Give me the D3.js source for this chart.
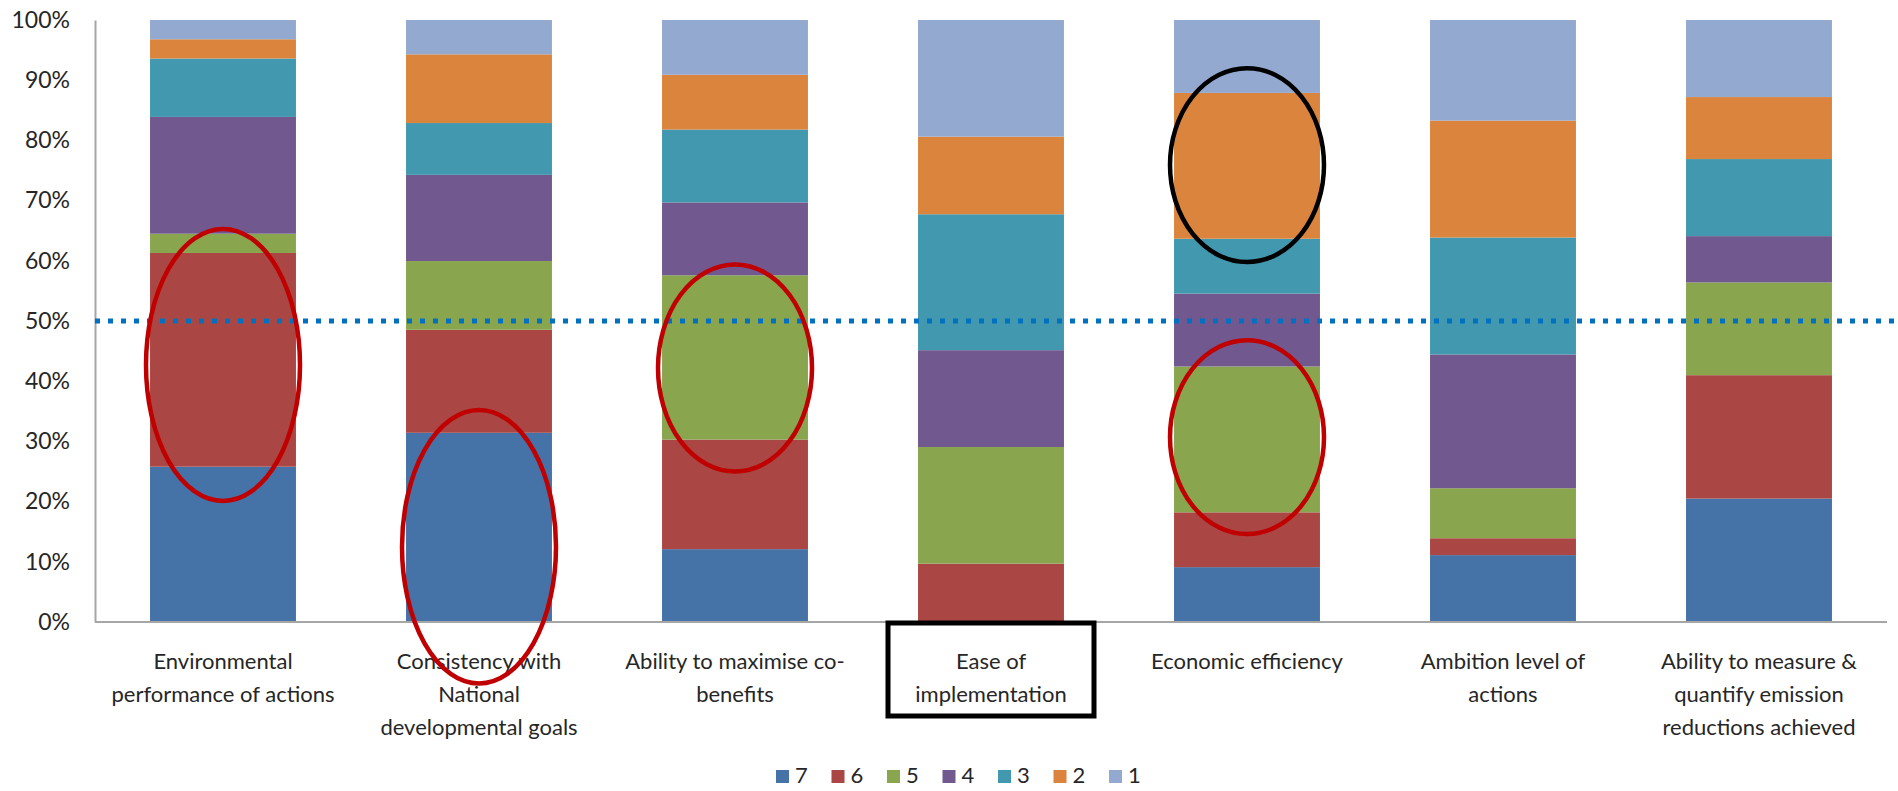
<!DOCTYPE html>
<meta charset="utf-8">
<html>
<head>
<script src="https://cdn.jsdelivr.net/npm/d3@7"></script>
<style>
  body { margin: 0; background: #fff; }
  text { font-family: Lato, "Open Sans", sans-serif; fill: #262626; }
</style>
</head>
<body>
<div id="chartContainer"></div>
<script>
// criteria on the x axis, each one a list of text lines
var categories = [
  "Environmental performance of actions",
  "Consistency with National developmental goals",
  "Ability to maximise co-benefits",
  "Ease of implementation",
  "Economic efficiency",
  "Ambition level of actions",
  "Ability to measure & quantify emission reductions achieved"
];
var categoryLines = [
  ["Environmental", "performance of actions"],
  ["Consistency with", "National", "developmental goals"],
  ["Ability to maximise co-", "benefits"],
  ["Ease of", "implementation"],
  ["Economic efficiency"],
  ["Ambition level of", "actions"],
  ["Ability to measure &", "quantify emission", "reductions achieved"]
];

// share of answers (%) per score
var score7 = [25.8, 31.4, 12.1, 0.0, 9.1, 11.1, 20.5];
var score6 = [35.5, 17.1, 18.2, 9.7, 9.1, 2.8, 20.5];
var score5 = [3.2, 11.4, 27.3, 19.4, 24.2, 8.3, 15.4];
var score4 = [19.4, 14.3, 12.1, 16.1, 12.1, 22.2, 7.7];
var score3 = [9.7, 8.6, 12.1, 22.6, 9.1, 19.4, 12.8];
var score2 = [3.2, 11.4, 9.1, 12.9, 24.2, 19.4, 10.3];
var score1 = [3.2, 5.7, 9.1, 19.4, 12.1, 16.7, 12.8];

var seriesNames = ["7", "6", "5", "4", "3", "2", "1"];
var seriesColors = ["#4572A7", "#AA4643", "#89A54E", "#71588F", "#4198AF", "#DB843D", "#93A9CF"];
var yTicks = [0, 0.1, 0.2, 0.3, 0.4, 0.5, 0.6, 0.7, 0.8, 0.9, 1];

// hand drawn highlights: [category index, centre %, half height %, colour]
var ellipses = [
  [0, 42.7, 22.6, "#C00000"],
  [1, 12.5, 22.7, "#C00000"],
  [2, 42.2, 17.2, "#C00000"],
  [4, 75.9, 16.1, "#000000"],
  [4, 30.7, 16.1, "#C00000"]
];
var boxedCategory = 3;

var W = 1898, H = 791;
var svg = d3.select("#chartContainer").append("svg")
  .attr("width", W).attr("height", H);

var mLeft = 95, mRight = 1887, mTop = 20, mBottom = 622;

var allSeries = [score7, score6, score5, score4, score3, score2, score1];
var rows = categories.map(function (c, i) {
  var r = { cat: c };
  seriesNames.forEach(function (s, j) { r[s] = allSeries[j][i]; });
  return r;
});

var stack = d3.stack().keys(seriesNames).offset(d3.stackOffsetExpand);
var layers = stack(rows);

var x = d3.scaleBand().domain(categories).range([mLeft, mRight])
  .paddingInner(0.43).paddingOuter(0.215);
var y = d3.scaleLinear().domain([0, 1]).range([mBottom, mTop]);

// bars
svg.append("g").selectAll("g")
  .data(layers)
  .enter().append("g")
    .attr("fill", function (d, i) { return seriesColors[i]; })
  .selectAll("rect")
  .data(function (d) { return d; })
  .enter().append("rect")
    .attr("x", function (d) { return x(d.data.cat); })
    .attr("width", x.bandwidth())
    .attr("y", function (d) { return y(d[1]); })
    .attr("height", function (d) { return y(d[0]) - y(d[1]); });

// axes
var yAxis = svg.append("g")
  .attr("transform", "translate(" + mLeft + ",0)")
  .call(d3.axisLeft(y).tickValues(yTicks).tickSize(0).tickPadding(25)
    .tickFormat(d3.format(".0%")));
yAxis.select(".domain").attr("stroke", "#A6A6A6").attr("stroke-width", 2);
yAxis.selectAll("text").style("font-size", "23px").attr("fill", "#262626")
  .style("font-family", "Lato, sans-serif");

svg.append("line")
  .attr("x1", mLeft).attr("x2", mRight)
  .attr("y1", mBottom).attr("y2", mBottom)
  .attr("stroke", "#A6A6A6").attr("stroke-width", 2);

// category labels
svg.append("g").selectAll("text")
  .data(categories)
  .enter().append("text")
    .attr("text-anchor", "middle")
    .style("font-size", "22px")
    .attr("x", function (d) { return x(d) + x.bandwidth() / 2; })
    .attr("y", mBottom + 47)
    .each(function (d, i) {
      var t = d3.select(this);
      categoryLines[i].forEach(function (line, k) {
        t.append("tspan")
          .attr("x", x(d) + x.bandwidth() / 2)
          .attr("dy", k === 0 ? 0 : 33)
          .text(line);
      });
    });

// 50% reference line
svg.append("line")
  .attr("x1", mLeft).attr("x2", W)
  .attr("y1", y(0.5)).attr("y2", y(0.5))
  .attr("stroke", "#0070C0").attr("stroke-width", 5)
  .attr("stroke-dasharray", "5,8");

// highlights
svg.append("g").selectAll("ellipse")
  .data(ellipses)
  .enter().append("ellipse")
    .attr("cx", function (d) { return x(categories[d[0]]) + x.bandwidth() / 2; })
    .attr("cy", function (d) { return y(d[1] / 100); })
    .attr("rx", 77)
    .attr("ry", function (d) { return y(0) - y(d[2] / 100); })
    .attr("fill", "none")
    .attr("stroke", function (d) { return d[3]; })
    .attr("stroke-width", 4.5);

var bx = x(categories[boxedCategory]) + x.bandwidth() / 2;
svg.append("rect")
  .attr("x", bx - 103).attr("y", mBottom + 1)
  .attr("width", 206).attr("height", 93)
  .attr("fill", "none").attr("stroke", "#000").attr("stroke-width", 5);

// legend
var legend = svg.append("g").selectAll("g")
  .data(seriesNames)
  .enter().append("g")
    .attr("transform", function (d, i) { return "translate(" + (776 + i * 55.5) + ",770)"; });
legend.append("rect")
  .attr("width", 13).attr("height", 13)
  .attr("fill", function (d, i) { return seriesColors[i]; });
legend.append("text")
  .attr("x", 19).attr("y", 13)
  .style("font-size", "22px")
  .text(function (d) { return d; });
</script>
</body>
</html>
